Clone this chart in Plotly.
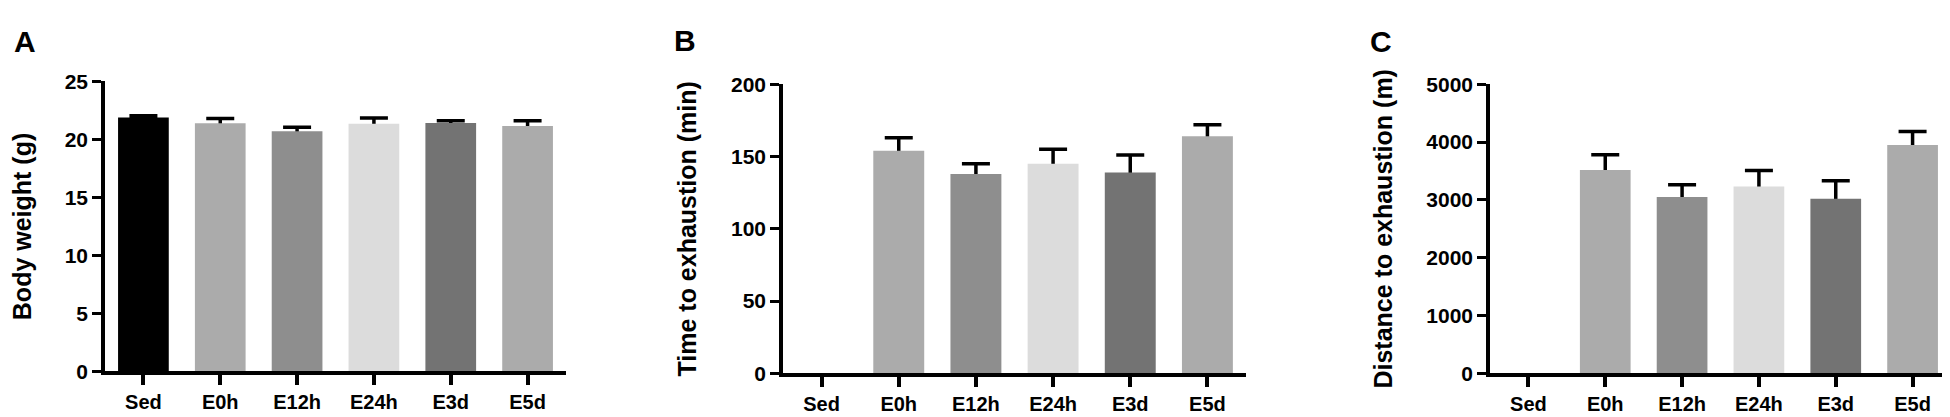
import plotly.graph_objects as go

categories = ["Sed", "E0h", "E12h", "E24h", "E3d", "E5d"]
bar_colors = ["#000000", "#ababab", "#8e8e8e", "#dcdcdc", "#737373", "#ababab"]

# Panel A: body weight (g)
weight_mean = [21.9, 21.4, 20.7, 21.35, 21.42, 21.15]
weight_sem = [0.15, 0.4, 0.35, 0.5, 0.18, 0.45]

# Panel B: time to exhaustion (min)
time_mean = [None, 154, 138, 145, 139, 164]
time_sem = [None, 9, 7, 10, 12, 8]

# Panel C: distance to exhaustion (m)
dist_mean = [None, 3515, 3052, 3232, 3020, 3950]
dist_sem = [None, 265, 210, 275, 310, 235]

y_titles = ["Body weight (g)", "Time to exhaustion (min)", "Distance to exhaustion (m)"]
y_ranges = [[0, 25], [0, 200], [0, 5000]]
y_dticks = [5, 50, 1000]
panel_letters = ["A", "B", "C"]

W, H = 1950, 417
# pixel frames of each plot area: (left, right, top, bottom)
frames = [(97, 558, 65, 372), (775, 1238, 68, 374), (1482, 1943, 68, 374)]
letter_pos = [(4, 3), (664, 2), (1360, 3)]

FONT = "Liberation Sans, Arial, sans-serif"

fig = go.Figure()
datasets = [(weight_mean, weight_sem), (time_mean, time_sem), (dist_mean, dist_sem)]
for i, (means, sems) in enumerate(datasets):
    sfx = "" if i == 0 else str(i + 1)
    # invisible bars carrying symmetric error bars (lower half hidden by the bars drawn next)
    fig.add_trace(go.Bar(
        x=categories, y=means,
        marker=dict(color="rgba(0,0,0,0)", line=dict(width=0)),
        error_y=dict(type="data", array=sems, color="black", thickness=3.5, width=14),
        xaxis="x" + sfx, yaxis="y" + sfx, showlegend=False, hoverinfo="skip",
    ))
    fig.add_trace(go.Bar(
        x=categories, y=means,
        marker=dict(color=bar_colors, line=dict(width=0)),
        xaxis="x" + sfx, yaxis="y" + sfx, showlegend=False,
    ))
    l, r, t, b = frames[i]
    xa = dict(domain=[l / W, r / W], range=[-0.5, 5.5], showline=True, linewidth=3.5,
              linecolor="black", ticks="outside", ticklen=10, tickwidth=3.5, tickcolor="black",
              tickfont=dict(family=FONT, size=20, color="black", weight="bold"),
              showgrid=False, zeroline=False, anchor="y" + sfx, fixedrange=True)
    ya = dict(domain=[1 - b / H, 1 - t / H], range=y_ranges[i], dtick=y_dticks[i], tick0=0,
              showline=True, linewidth=3.5, linecolor="black", ticks="outside", ticklen=9,
              tickwidth=3, tickcolor="black",
              tickfont=dict(family=FONT, size=21, color="black", weight="bold"),
              title=dict(text=y_titles[i], standoff=28,
                         font=dict(family=FONT, size=25, color="black", weight="bold")),
              showgrid=False, zeroline=False, anchor="x" + sfx, fixedrange=True)
    fig.layout["xaxis" + sfx] = xa
    fig.layout["yaxis" + sfx] = ya
    lx, ly = letter_pos[i]
    fig.add_annotation(text=panel_letters[i], x=lx / W, y=1 - ly / H, xref="paper", yref="paper",
                       xanchor="left", yanchor="top", showarrow=False,
                       font=dict(family=FONT, size=30, color="black", weight="bold"))

fig.update_layout(width=W, height=H, margin=dict(l=0, r=0, t=0, b=0),
                  paper_bgcolor="white", plot_bgcolor="white", bargap=0.34, barmode="overlay")

fig.write_html("out.html")
